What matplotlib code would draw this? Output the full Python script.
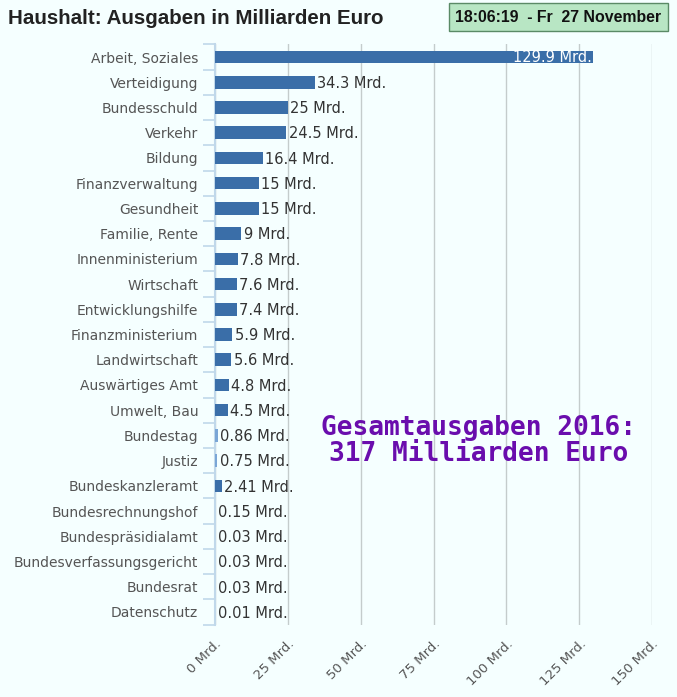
import numpy as np
import matplotlib
matplotlib.use('Agg')
import matplotlib.pyplot as plt

categories = ["Arbeit, Soziales", "Verteidigung", "Bundesschuld", "Verkehr", "Bildung",
              "Finanzverwaltung", "Gesundheit", "Familie, Rente", "Innenministerium",
              "Wirtschaft", "Entwicklungshilfe", "Finanzministerium", "Landwirtschaft",
              "Auswärtiges Amt", "Umwelt, Bau", "Bundestag", "Justiz", "Bundeskanzleramt",
              "Bundesrechnungshof", "Bundespräsidialamt", "Bundesverfassungsgericht",
              "Bundesrat", "Datenschutz"]
values = [129.9, 34.3, 25, 24.5, 16.4, 15, 15, 9, 7.8, 7.6, 7.4, 5.9, 5.6, 4.8, 4.5,
          0.86, 0.75, 2.41, 0.15, 0.03, 0.03, 0.03, 0.01]
value_labels = ["129.9", "34.3", "25", "24.5", "16.4", "15", "15", "9", "7.8", "7.6", "7.4",
                "5.9", "5.6", "4.8", "4.5", "0.86", "0.75", "2.41", "0.15", "0.03", "0.03",
                "0.03", "0.01"]
light_bars = ["Bundestag", "Justiz"]
xticks = [0, 25, 50, 75, 100, 125, 150]

bg = '#f5ffff'
bar_c = '#3a6ea8'
fig = plt.figure(figsize=(6.77, 6.97), dpi=100, facecolor=bg)
ax = fig.add_axes([215/677, 1-624.6/697, (652-215)/677, (624.6-44.4)/697], facecolor=bg)

y = np.arange(len(categories))
colors = ['#7aa6d6' if c in light_bars else bar_c for c in categories]
ax.barh(y, values, height=0.5, color=colors, zorder=3)
ax.set_ylim(len(categories)-0.5, -0.5)
ax.set_xlim(0, 150)

for i, (v, lab) in enumerate(zip(values, value_labels)):
    if v > 100:
        ax.text(v - 0.5, i, lab + " Mrd.", ha='right', va='center', color='white',
                fontsize=10.5, zorder=4)
    else:
        ax.text(max(v, 0.3) + 0.8, i + 0.05, lab + " Mrd.", ha='left', va='center',
                color='#333333', fontsize=10.5, zorder=4)

ax.set_yticks(y)
ax.set_yticklabels(categories, fontsize=10, color='#555555')
ax.tick_params(axis='y', length=0, pad=12)
# ticks between categories
ax.set_yticks(np.arange(len(categories)+1) - 0.5, minor=True)
ax.tick_params(axis='y', which='minor', length=9, color='#c0d8ea', width=1.2)

ax.set_xticks(xticks)
ax.set_xticklabels([f"{t} Mrd." for t in xticks], rotation=45, ha='right',
                   rotation_mode='anchor', fontsize=9.5, color='#555555')
ax.tick_params(axis='x', length=0, pad=9)
ax.grid(axis='x', color='#c4cccc', linewidth=1, zorder=0)

for s in ['top', 'right', 'bottom']:
    ax.spines[s].set_visible(False)
ax.spines['left'].set_color('#c0d8ea')
ax.spines['left'].set_linewidth(1.5)

fig.text(478.5/677, 1-441/697, "Gesamtausgaben 2016:\n317 Milliarden Euro",
         ha='center', va='center', fontsize=18.8, fontweight='bold', color='#6a0dad',
         family='DejaVu Sans Mono', linespacing=1.0)

fig.text(8/677, 1-18/697, "Haushalt: Ausgaben in Milliarden Euro", fontsize=14.8,
         fontweight='bold', color='#222222', family='Liberation Sans', va='center')
fig.text(558.5/677, 1-17/697, "18:06:19  - Fr  27 November", fontsize=11.4, fontweight='bold',
         color='#111111', family='Liberation Sans', ha='center', va='center',
         bbox=dict(boxstyle='square,pad=0.4', facecolor='#b8e6c4', edgecolor='#5a8a66'))

fig.savefig('out.png', dpi=100, facecolor=bg)
